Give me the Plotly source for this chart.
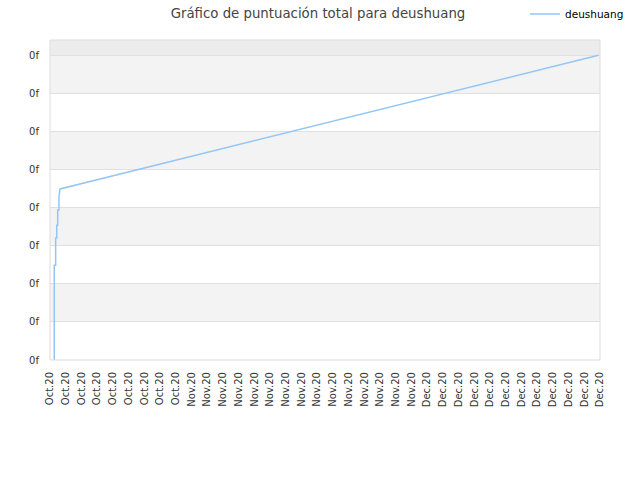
import plotly.graph_objects as go

# posiciones en unidades de marca del eje x (0 = primera etiqueta)
x_pos = [0.27, 0.27, 0.36, 0.36, 0.43, 0.43, 0.49, 0.49, 0.57, 0.57, 0.64, 34.9]
scores = [0.0, 2.49, 2.49, 3.2, 3.2, 3.54, 3.54, 3.94, 3.94, 4.28, 4.49, 8.0]

tick_labels = ['Oct.20'] * 9 + ['Nov.20'] * 15 + ['Dec.20'] * 12
y_ticks = [0, 1, 2, 3, 4, 5, 6, 7, 8]

W, H = 640, 480

fig = go.Figure()

fig.add_trace(go.Scatter(x=x_pos, y=scores, mode='lines', name='deushuang',
                         line=dict(color='#94c6f5', width=1.5)))

# bandas alternas de fondo
shapes = []
for lo in [1, 3, 5, 7]:
  shapes.append(dict(type='rect', xref='paper', yref='y', x0=0, x1=1, y0=lo, y1=lo + 1,
                     fillcolor='#f3f3f3', line=dict(width=0), layer='below'))
shapes.append(dict(type='rect', xref='paper', yref='y', x0=0, x1=1, y0=8, y1=8.4,
                   fillcolor='#ececec', line=dict(width=0), layer='below'))
shapes.append(dict(type='rect', xref='paper', yref='paper', x0=0, x1=1, y0=0, y1=1,
                   line=dict(color='#dddddd', width=1), layer='above'))

fig.update_layout(
  width=W, height=H,
  margin=dict(l=50, r=40, t=40, b=120, autoexpand=False),
  paper_bgcolor='white', plot_bgcolor='white',
  font=dict(family='DejaVu Sans', size=10, color='#333333'),
  title=dict(text='Gráfico de puntuación total para deushuang', x=318 / W,
             xanchor='center', xref='container', y=1 - 13 / H, yanchor='middle',
             yref='container', font=dict(size=13.3, color='#444444')),
  showlegend=True,
  legend=dict(xref='container', yref='container', x=525 / W, xanchor='left',
              y=1 - 14 / H, yanchor='middle', orientation='h',
              bgcolor='rgba(0,0,0,0)', font=dict(size=10.5, color='#000000')),
  shapes=shapes,
  xaxis=dict(range=[0, 35], tickvals=list(range(len(tick_labels))), ticktext=tick_labels,
             tickangle=-90, showgrid=False, zeroline=False, showline=False, ticks='',
             ticklabelstandoff=9, automargin=False),
  yaxis=dict(range=[0, 8.4], tickvals=y_ticks, ticktext=['0f'] * len(y_ticks),
             showgrid=True, gridcolor='#e0e0e0', gridwidth=1, zeroline=False,
             showline=False, ticks='', ticklabelstandoff=10, automargin=False),
)

fig.write_html("out.html", config={'displayModeBar': False},
               post_script="document.body.style.margin = '0';")
